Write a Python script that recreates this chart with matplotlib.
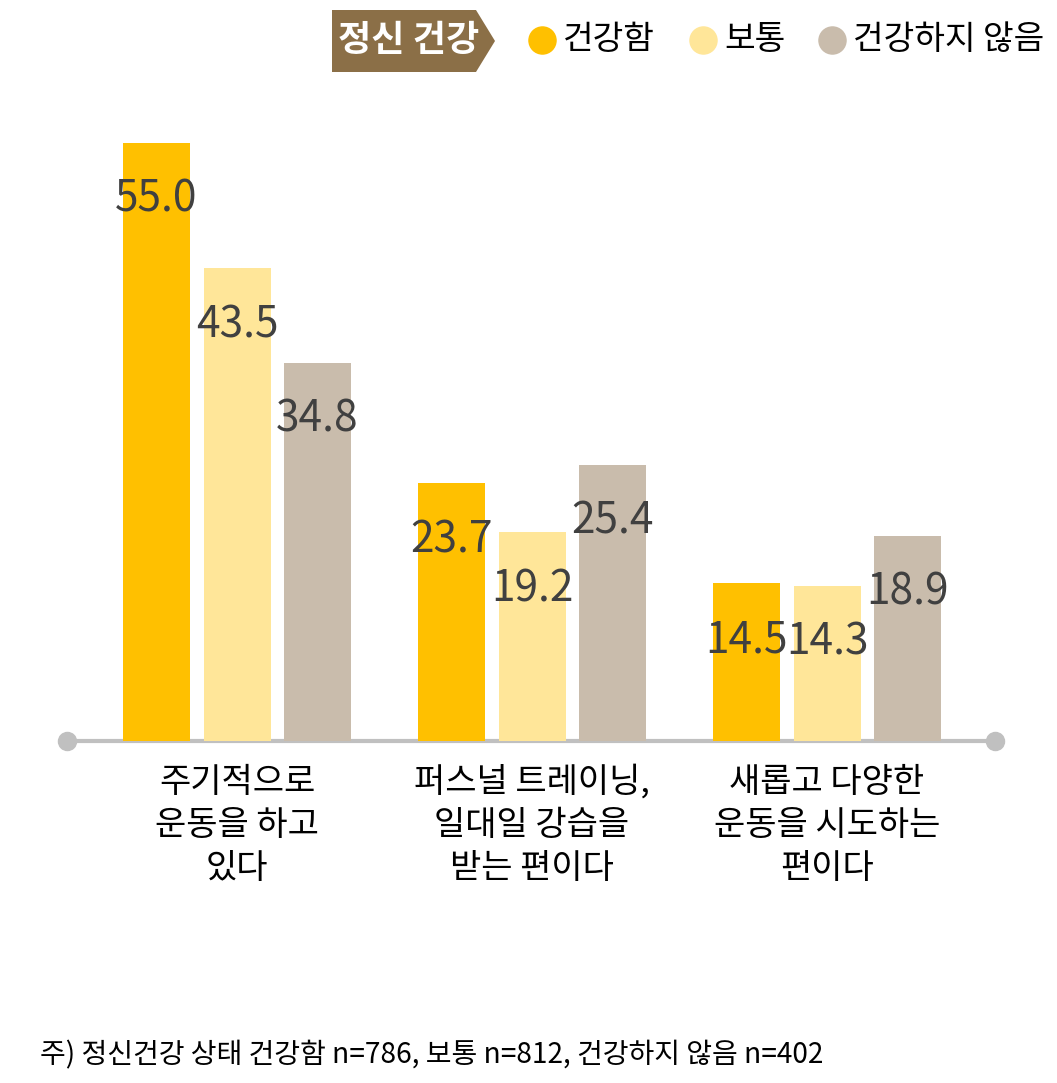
import matplotlib
matplotlib.use("Agg")
import matplotlib.pyplot as plt
from matplotlib.patches import Polygon
from matplotlib.lines import Line2D
import numpy as np

plt.rcParams['font.family'] = ['Noto Sans CJK KR', 'DejaVu Sans']

categories = ["주기적으로\n운동을 하고\n있다",
              "퍼스널 트레이닝,\n일대일 강습을\n받는 편이다",
              "새롭고 다양한\n운동을 시도하는\n편이다"]
series_names = ["건강함", "보통", "건강하지 않음"]
healthy = [55.0, 23.7, 14.5]
normal = [43.5, 19.2, 14.3]
unhealthy = [34.8, 25.4, 18.9]
series_values = [healthy, normal, unhealthy]
colors = ["#FFC000", "#FFE699", "#C9BCAC"]
legend_title = "정신 건강"
footnote = "주) 정신건강 상태 건강함 n=786, 보통 n=812, 건강하지 않음 n=402"

W, H = 1057, 1083
fig = plt.figure(figsize=(W / 100, H / 100), dpi=100)

def fx(x):
    return x / W

def fy(y):
    return 1 - y / H

# axes geometry in pixels
left_px, right_px = 67, 995
base_px = 741
ymax = 60.0
px_per_unit = 10.873
top_px = base_px - ymax * px_per_unit
ax = fig.add_axes([fx(left_px), fy(base_px), (right_px - left_px) / W, (base_px - top_px) / H])

spacing_px = 295.0
x_left = -(237 - left_px) / spacing_px
x_right = x_left + (right_px - left_px) / spacing_px
ax.set_xlim(x_left, x_right)
ax.set_ylim(0, ymax)

offset = 80.5 / spacing_px
width = 67 / spacing_px
x = np.arange(len(categories))

# baseline with round ends
ax.plot([x_left, x_right], [0, 0], color="#C0C0C0", lw=3, zorder=1, clip_on=False,
        solid_capstyle='butt')
ax.plot([x_left, x_right], [0, 0], linestyle='none', marker='o', markersize=13,
        color="#C0C0C0", zorder=1, clip_on=False)

for i, (vals, c) in enumerate(zip(series_values, colors)):
    xs = x + (i - 1) * offset
    ax.bar(xs, vals, width=width, color=c, zorder=2)
    for xv, v in zip(xs, vals):
        ax.annotate(f"{v:.1f}", (xv, v), xytext=(0, -57), textcoords='offset pixels',
                    ha='center', va='center', fontsize=30.5, color="#404040", zorder=3)

ax.set_xticks(x)
ax.set_xticklabels(categories, fontsize=24.5, linespacing=1.3, color="black")
ax.tick_params(axis='x', length=0, pad=17)
ax.set_yticks([])
for s in ax.spines.values():
    s.set_visible(False)

# legend title box
poly = Polygon([(fx(332), fy(10)), (fx(476), fy(10)), (fx(495), fy(41)),
                (fx(476), fy(72)), (fx(332), fy(72))], closed=True,
               transform=fig.transFigure, facecolor="#8B6F47", edgecolor='none')
fig.add_artist(poly)
fig.text(fx(409), fy(40), legend_title, ha='center', va='center', fontsize=26,
         fontweight='bold', color='white')

marker_x = [542, 703, 832]
for mx, name, c in zip(marker_x, series_names, colors):
    fig.add_artist(Line2D([fx(mx)], [fy(40)], marker='o', markersize=19.5, color=c,
                          linestyle='none', transform=fig.transFigure))
    fig.text(fx(mx + 21), fy(39), name, ha='left', va='center', fontsize=24, color='black')

fig.text(fx(40), fy(1055), footnote, ha='left', va='center', fontsize=20.2, color='black')

fig.savefig("out.png", dpi=100)
